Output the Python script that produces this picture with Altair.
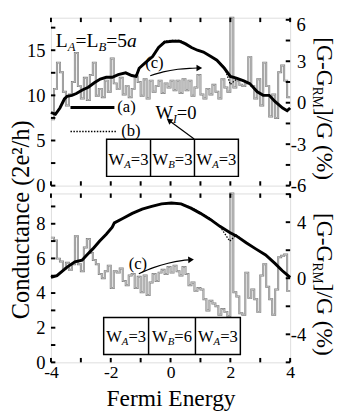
import altair as alt
import pandas as pd

SERIF = "Liberation Serif"
PW = 245
PH1 = 172
PH2 = 173

# ---------------- data ----------------
x_ticks = [-4, -3, -2, -1, 0, 1, 2, 3, 4]
x_labels = [-4, -2, 0, 2, 4]

top_left_ticks = [0, 2.5, 5, 7.5, 10, 12.5, 15, 17.5]
top_left_labels = [0, 5, 10, 15]
top_right_ticks = [-6, -4.5, -3, -1.5, 0, 1.5, 3, 4.5, 6]
top_right_labels = [-6, -3, 0, 3]
top_right_top_label = "6"
bot_left_ticks = [0, 1, 2, 3, 4, 5, 6, 7, 8, 9]
bot_left_labels = [0, 2, 4, 6, 8]
bot_right_ticks = [-6, -4, -2, 0, 2, 4, 6]
bot_right_labels = [-4, 0, 4]

top_left_domain = [0, 18.6]
top_right_domain = [-6, 6.15]
bot_left_domain = [0, 9.75]
bot_right_domain = [-6, 6.05]

# energy bin edges of the histogram-like deviation curves
E_edges = [round(-4 + 0.1 * i, 1) for i in range(81)]

top_dev = [-1.2, 1.0, 2.9, 2.2, 0.8, -0.2, 0.6, 1.5, 3.6, 1.2,
           0.3, 1.8, 0.2, 2.0, 2.9, 0.5, 1.0, 0.4, 1.6, 0.8,
           3.2, 1.4, 1.0, 1.8, 0.6, 1.2, 0.4, 1.0, 1.9, 1.5,
           0.5, 1.7, 0.3, 1.6, 0.8, 1.2, 1.6, 0.7, 1.4, 1.1,
           1.6, 0.9, 1.6, 0.7, 1.7, 0.9, 1.6, 0.5, 1.1, 2.0,
           0.6, 0.3, 1.0, 0.6, 1.3, 0.8, 0.3, 1.7, 1.1, 0.8,
           6.15, 1.1, 1.6, 1.3, 1.2, 1.4, 3.3, 1.2, 0.3, 1.7,
           -0.2, 2.9, 1.2, -1.0, 0.6, -1.1, 2.2, 2.7, 1.6, 0.4]

bot_dev = [2.9, 2.7, 1.4, 1.2, 0.7, 1.1, 0.6, 1.0, 3.0, 1.0,
           0.5, 2.2, 2.8, 1.8, 1.3, 1.0, 0.3, 0.0, 0.5, 0.9,
           -0.7, 0.5, 0.4, 0.7, -0.2, -0.5, 0.2, 0.3, -0.7, 0.1,
           -1.0, 0.2, -1.2, -0.3, 0.3, -0.2, 0.4, 0.6, 0.3, 0.8,
           0.4, 0.9, 0.5, 0.2, 0.8, 0.3, -0.5, -0.3, -0.9, -0.7,
           -0.8, -1.5, -2.3, -1.6, -1.8, -2.0, -2.6, -2.2, -2.4, -2.7,
           6.05, -1.0, -1.3, -2.5, -2.6, 0.4, -1.4, -0.8, -1.5, -2.4,
           0.2, 1.0, -0.6, -1.5, -2.6, -0.8, 1.5, 1.6, 1.7, -0.9]

top_E = [-4.00, -3.85, -3.70, -3.55, -3.46, -3.30, -3.15, -2.95, -2.75, -2.55,
         -2.35, -2.15, -1.95, -1.75, -1.50, -1.30, -1.15, -1.05, -0.85, -0.60,
         -0.40, -0.20, 0.05, 0.30, 0.50, 0.70, 0.90, 1.10, 1.35, 1.55,
         1.80, 2.00, 2.20, 2.45, 2.65, 2.90, 3.10, 3.30, 3.50, 3.75,
         3.90, 4.00]
top_a = [8.1, 7.9, 8.6, 9.6, 9.9, 10.0, 10.2, 10.6, 10.9, 11.4,
         11.8, 12.0, 12.0, 12.3, 12.5, 12.2, 12.1, 13.0, 13.6, 14.3,
         15.3, 15.9, 16.0, 16.0, 15.7, 15.3, 15.0, 14.8, 14.3, 13.9,
         13.0, 12.1, 11.9, 11.6, 11.3, 10.4, 10.0, 10.0, 9.3, 8.6,
         8.3, 8.6]
top_b = [8.1, 7.9, 8.6, 9.6, 9.9, 10.0, 10.2, 10.6, 10.9, 11.4,
         11.8, 12.0, 12.0, 12.3, 12.5, 12.2, 12.1, 13.0, 13.6, 14.3,
         15.3, 16.0, 16.1, 16.1, 15.8, 15.3, 15.0, 14.8, 14.3, 13.9,
         13.1, 11.2, 11.8, 11.6, 11.3, 10.4, 10.0, 10.0, 9.3, 8.6,
         8.3, 8.6]

bot_E = [-4.00, -3.80, -3.46, -3.20, -2.96, -2.80, -2.60, -2.37, -2.15, -1.95,
         -1.88, -1.60, -1.28, -0.95, -0.63, -0.30, 0.03, 0.35, 0.68, 1.00,
         1.33, 1.65, 1.98, 2.20, 2.53, 2.85, 3.18, 3.50, 3.73, 4.00]
bot_a = [4.9, 5.0, 5.5, 5.8, 5.9, 6.2, 6.55, 7.0, 7.4, 7.8,
         8.05, 8.3, 8.6, 8.85, 9.0, 9.15, 9.2, 9.15, 8.9, 8.6,
         8.25, 7.85, 7.5, 7.3, 6.9, 6.55, 6.2, 5.7, 5.3, 4.9]
bot_b = [4.9, 5.0, 5.5, 5.8, 5.9, 6.2, 6.55, 7.0, 7.4, 7.8,
         8.05, 8.3, 8.6, 8.85, 9.0, 9.15, 9.2, 9.15, 8.95, 8.65,
         8.3, 7.85, 7.0, 7.35, 6.9, 6.55, 6.2, 5.7, 5.3, 4.9]

# ---------------- text helpers (Times / Liberation Serif metrics) ----------------
REG = {'[': 333, ']': 333, 'G': 722, '-': 333, '/': 278, ' ': 250, '(': 333, ')': 333,
       '%': 833, 'R': 667, 'M': 889, 'W': 944, '=': 564, 'L': 611, 'a': 444,
       'b': 500, 'c': 444}
ITA = {'A': 611, 'B': 611, 'I': 333, 'a': 500}


def tw(s, size, ital=False):
    t = ITA if ital else REG
    return sum(t.get(c, 500) for c in s) * size / 1000.0


def text_layer(px, py, s, size, ital=False, angle=0, align='left', baseline='alphabetic'):
    df = pd.DataFrame({'px': [px], 'py': [py], 't': [s]})
    mk = dict(font=SERIF, fontSize=size, fontStyle='italic' if ital else 'normal',
              align=align, baseline=baseline, color='black')
    if angle:
        mk['angle'] = angle
    return alt.Chart(df).mark_text(**mk).encode(
        x=alt.X('px:Q', scale=None, axis=None),
        y=alt.Y('py:Q', scale=None, axis=None),
        text='t:N')


def rich(x0, y0, pieces, angle=0):
    out = []
    pos = 0.0
    for s, size, ital, shift in pieces:
        if angle == 90:
            px, py = x0 - shift, y0 + pos
        else:
            px, py = x0 + pos, y0 + shift
        out.append(text_layer(px, py, s, size, ital, angle))
        pos += tw(s, size, ital)
    return out


def rich_width(pieces):
    return sum(tw(s, size, ital) for s, size, ital, _ in pieces)


def wlabel(cx, by, sub, num):
    p = [("W", 17, False, 0), (sub, 11, True, 3.5), ("=" + num, 17, False, 0)]
    return rich(cx - rich_width(p) / 2, by, p)


def pline(xs, ys, **kw):
    df = pd.DataFrame({'px': xs, 'py': ys})
    return alt.Chart(df).mark_line(color='black', **kw).encode(
        x=alt.X('px:Q', scale=None, axis=None),
        y=alt.Y('py:Q', scale=None, axis=None))


def head(px, py, ang):
    df = pd.DataFrame({'px': [px], 'py': [py]})
    return alt.Chart(df).mark_point(shape='triangle-right', filled=True, color='black',
                                    size=45, angle=ang, opacity=1).encode(
        x=alt.X('px:Q', scale=None, axis=None),
        y=alt.Y('py:Q', scale=None, axis=None))


def box(x1, x2, y1, y2, dividers):
    df = pd.DataFrame({'px': [x1], 'px2': [x2], 'py': [y1], 'py2': [y2]})
    r = alt.Chart(df).mark_rect(fillOpacity=0, stroke='black', strokeWidth=1.5).encode(
        x=alt.X('px:Q', scale=None, axis=None), x2='px2:Q',
        y=alt.Y('py:Q', scale=None, axis=None), y2='py2:Q')
    dd = pd.DataFrame({'px': dividers, 'py': [y1] * len(dividers), 'py2': [y2] * len(dividers)})
    d = alt.Chart(dd).mark_rule(color='black', strokeWidth=1.5).encode(
        x=alt.X('px:Q', scale=None, axis=None),
        y=alt.Y('py:Q', scale=None, axis=None), y2='py2:Q')
    return [r, d]


def right_title():
    p = [("[G-G", 24, False, 0), ("RM", 14, False, 5), ("]/G (%)", 24, False, 0)]
    return rich(PW + 28, 20, p, angle=90)


LAB = dict(labelFont=SERIF, labelColor='black', ticks=False,
           domain=False, grid=False, labelFlush=False, labelOverlap=False)
NEG = "datum.value < 0 ? '-' + abs(datum.value) : '' + datum.value"


def panel(H, cE, ca, cb, dev, ldom, rdom, lt, ll, rt, rl, show_x, ann):
    xs = alt.Scale(domain=[-4, 4], nice=False, zero=False)
    yl = alt.Scale(domain=ldom, nice=False, zero=False)
    yr = alt.Scale(domain=rdom, nice=False, zero=False)

    if show_x:
        xaxis = alt.Axis(orient='bottom', values=x_labels, labelExpr=NEG, labelPadding=2,
                         labelFontSize=18,
                         title='Fermi Energy', titleFont=SERIF, titleFontSize=24,
                         titleFontWeight='normal', titleColor='black',
                         titleY=44, titleBaseline='alphabetic', titleAnchor='middle',
                         **LAB)
    else:
        xaxis = None

    step = pd.DataFrame({'E': E_edges, 'v': dev + [dev[-1]]})
    s_dark = alt.Chart(step).mark_line(interpolate='step-after', color='#7c7c7c',
                                       strokeWidth=2.0).encode(
        x=alt.X('E:Q', scale=xs, axis=None),
        y=alt.Y('v:Q', scale=yr, axis=alt.Axis(orient='right', values=rl, labelExpr=NEG,
                                               labelAlign='right', labelPadding=16,
                                               labelFontSize=19, title=None, **LAB)))
    s_light = alt.Chart(step).mark_line(interpolate='step-after', color='#dcdcdc',
                                        strokeWidth=0.7).encode(
        x=alt.X('E:Q', scale=xs, axis=None),
        y=alt.Y('v:Q', scale=yr, axis=None))

    cond = pd.DataFrame({'E': cE, 'a': ca, 'b': cb})
    b_line = alt.Chart(cond).mark_line(color='black', strokeWidth=1.3,
                                       strokeDash=[1.5, 1.5]).encode(
        x=alt.X('E:Q', scale=xs, axis=None),
        y=alt.Y('b:Q', scale=yl, axis=None))
    a_line = alt.Chart(cond).mark_line(color='black', strokeWidth=3).encode(
        x=alt.X('E:Q', scale=xs, axis=xaxis),
        y=alt.Y('a:Q', scale=yl, axis=alt.Axis(orient='left', values=ll, labelPadding=6,
                                               labelFontSize=19, title=None, **LAB)))

    tk = dict(color='black', strokeWidth=2)
    xt = pd.DataFrame({'v': x_ticks})
    ticks = [
        alt.Chart(xt).mark_rule(**tk).encode(x=alt.X('v:Q', scale=xs, axis=None),
                                             y=alt.value(H), y2=alt.value(H - 4.5)),
        alt.Chart(xt).mark_rule(**tk).encode(x=alt.X('v:Q', scale=xs, axis=None),
                                             y=alt.value(0), y2=alt.value(4.5)),
        alt.Chart(pd.DataFrame({'v': lt})).mark_rule(**tk).encode(
            y=alt.Y('v:Q', scale=yl, axis=None), x=alt.value(0), x2=alt.value(4.5)),
        alt.Chart(pd.DataFrame({'v': rt})).mark_rule(**tk).encode(
            y=alt.Y('v:Q', scale=yr, axis=None), x=alt.value(PW - 4.5), x2=alt.value(PW)),
    ]

    layers = [s_dark, s_light, b_line, a_line] + ticks + ann + right_title()
    return alt.layer(*layers).resolve_scale(x='independent', y='independent').properties(
        width=PW, height=H)


# ---------------- annotations ----------------
top_ann = []
top_ann.append(text_layer(PW + 16, 8, top_right_top_label, 19, align='right',
                          baseline='middle'))
top_ann += rich(5, 30, [("L", 20, False, 0), ("A", 13, True, 4), ("=L", 20, False, 0),
                        ("B", 13, True, 4), ("=5", 20, False, 0), ("a", 20, True, 0)])
top_ann.append(pline([20, 65], [92, 92], strokeWidth=3))
top_ann.append(text_layer(68, 92, "(a)", 17, baseline='middle'))
top_ann.append(pline([20, 68], [116.5, 116.5], strokeWidth=1.5, strokeDash=[1.5, 1.5]))
top_ann.append(text_layer(72, 116.5, "(b)", 17, baseline='middle'))
top_ann.append(text_layer(106, 47, "(c)", 17, align='center', baseline='middle'))
top_ann.append(pline([101.7, 115, 130, 142, 150], [59.5, 55.5, 52.8, 51.8, 51.5],
                     strokeWidth=1.2, interpolate='monotone'))
top_ann.append(head(152, 51.5, 0))
top_ann += rich(107, 104, [("W", 19, False, 0), ("I", 12, True, 4), ("=0", 19, False, 0)])
top_ann.append(pline([146.7, 122], [124.2, 106], strokeWidth=1.2))
top_ann.append(head(121, 105.2, 216.5))
top_ann += box(57, 192, 124.4, 162.5, [102, 147])
top_ann += wlabel(79.5, 150.8, "A", "3")
top_ann += wlabel(124.5, 150.8, "B", "3")
top_ann += wlabel(169.5, 150.8, "A", "3")
top_ann.append(text_layer(-23, 207, "Conductance (2e\u00b2/h)", 25, angle=270,
                          align='center'))

bot_ann = []
bot_ann.append(text_layer(89, 72, "(c)", 17, align='center', baseline='middle'))
bot_ann.append(pline([90, 105, 120, 134, 141], [82.2, 76, 71.5, 68.8, 68.1],
                     strokeWidth=1.2, interpolate='monotone'))
bot_ann.append(head(143.5, 67.9, 357))
bot_ann += box(54, 194, 127, 165, [100, 148])
bot_ann += wlabel(77, 152, "A", "3")
bot_ann += wlabel(124, 152, "B", "6")
bot_ann += wlabel(171, 152, "A", "3")

top = panel(PH1, top_E, top_a, top_b, top_dev, top_left_domain, top_right_domain,
            top_left_ticks, top_left_labels, top_right_ticks, top_right_labels, False, top_ann)
bottom = panel(PH2, bot_E, bot_a, bot_b, bot_dev, bot_left_domain, bot_right_domain,
               bot_left_ticks, bot_left_labels, bot_right_ticks, bot_right_labels, True, bot_ann)

chart = alt.vconcat(top, bottom, spacing=8, bounds='flush', padding=0).configure_view(
    stroke='black', strokeWidth=3).configure(font=SERIF, background='white')

chart.save("out.html", embed_options={"renderer": "svg", "actions": False})
